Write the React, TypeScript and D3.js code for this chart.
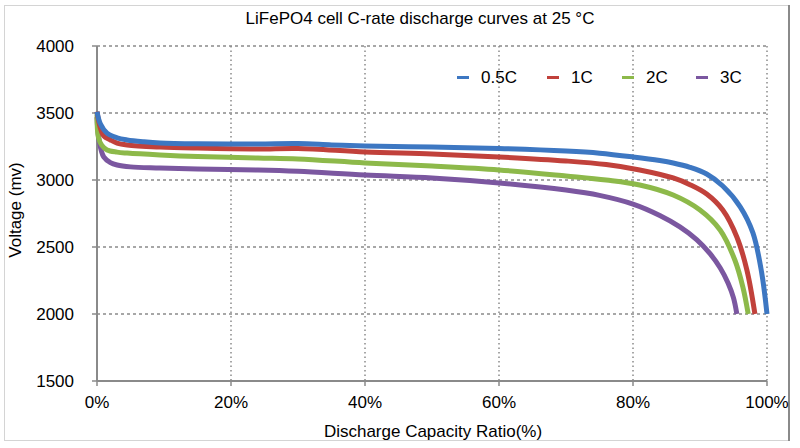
import React from "react";
import * as d3 from "d3";

const seriesNames = ["0.5C", "1C", "2C", "3C"];
const seriesColors = ["#3d77c2", "#c1413b", "#8db94a", "#7b57a0"];

const cap05 = [0, 0.5, 1.5, 3, 4.5, 7, 9.4, 15, 24, 30, 35, 40, 50, 60, 70, 75, 80, 84, 86, 88.5, 91, 93.4, 96, 97.9, 99.2, 100];
const volt05 = [3510, 3420, 3350, 3315, 3299, 3285, 3276, 3270, 3269, 3272, 3262, 3254, 3246, 3235, 3216, 3200, 3172, 3145, 3127, 3095, 3045, 2955, 2800, 2605, 2310, 2000];

const cap1 = [0, 0.45, 1, 2, 3, 4.5, 9.4, 15, 24, 30, 40, 50, 60, 70, 76, 81, 86, 88.5, 91, 93.4, 95.5, 97, 98.2];
const volt1 = [3510, 3396, 3330, 3299, 3275, 3261, 3246, 3238, 3231, 3235, 3209, 3194, 3172, 3142, 3115, 3075, 3015, 2965, 2895, 2776, 2575, 2328, 2000];

const cap2 = [0, 0.2, 0.7, 1.5, 3, 4.5, 9.4, 15, 24, 30, 40, 50, 60, 70, 76, 81, 86, 90, 93, 95.2, 96.4, 97.2];
const volt2 = [3490, 3321, 3260, 3224, 3208, 3201, 3187, 3175, 3164, 3157, 3127, 3104, 3075, 3030, 3000, 2963, 2888, 2776, 2627, 2403, 2201, 2000];

const cap3 = [0, 0.3, 1, 2, 3, 5, 9.4, 15, 24, 30, 40, 50, 60, 70, 75, 80, 84, 87, 89.5, 91.5, 93, 94.2, 95, 95.5];
const volt3 = [3470, 3300, 3172, 3130, 3112, 3098, 3090, 3082, 3075, 3065, 3037, 3015, 2978, 2925, 2885, 2820, 2735, 2650, 2555, 2450, 2345, 2230, 2120, 2000];

const xTicks = [0, 20, 40, 60, 80, 100];
const yTicks = [1500, 2000, 2500, 3000, 3500, 4000];

const title = "LiFePO4 cell C-rate discharge curves at 25 °C";
const xTitle = "Discharge Capacity Ratio(%)";
const yTitle = "Voltage (mv)";

const FONT = "'Liberation Sans', Arial, Helvetica, sans-serif";

export default function App() {
  const W = 800, H = 448;
  const x = d3.scaleLinear().domain([0, 100]).range([97, 767]);
  const y = d3.scaleLinear().domain([1500, 4000]).range([381, 46]);
  const caps = [cap05, cap1, cap2, cap3];
  const volts = [volt05, volt1, volt2, volt3];
  const line = d3
    .line<[number, number]>()
    .x((d) => x(d[0]))
    .y((d) => y(d[1]))
    .curve(d3.curveCatmullRom.alpha(0.5));

  const order = [3, 2, 1, 0];
  const legendX = [457, 547, 622, 696];

  return (
    <svg width={W} height={H} style={{ position: "absolute", left: 0, top: 0, background: "#fff" }} fontFamily={FONT}>
      <rect x={4.5} y={5.5} width={784} height={435} fill="#fff" stroke="#d4d4d4" strokeWidth={1} />
      <line x1={789} x2={789} y1={5} y2={441} stroke="#8a8a8a" strokeWidth={2} />

      {yTicks.filter((t) => t > 1500).map((t) => (
        <line key={"hg" + t} x1={x(0)} x2={x(100)} y1={y(t)} y2={y(t)} stroke="#8a8a8a" strokeWidth={1.5} strokeDasharray="3,3" />
      ))}
      {xTicks.filter((t) => t > 0).map((t) => (
        <line key={"vg" + t} x1={x(t)} x2={x(t)} y1={y(4000)} y2={y(1500)} stroke="#8a8a8a" strokeWidth={1.5} strokeDasharray="1.5,3" />
      ))}

      <line x1={x(0)} x2={x(0)} y1={y(4000)} y2={y(1500)} stroke="#8a8a8a" strokeWidth={2} />
      <line x1={x(0)} x2={x(100)} y1={y(1500)} y2={y(1500)} stroke="#8a8a8a" strokeWidth={2} />
      {yTicks.map((t) => (
        <g key={"yt" + t}>
          <line x1={x(0) - 5} x2={x(0)} y1={y(t)} y2={y(t)} stroke="#8a8a8a" strokeWidth={1.5} />
          <text x={74} y={y(t)} dy="0.35em" textAnchor="end" fontSize={17} fill="#000">{t}</text>
        </g>
      ))}
      {xTicks.map((t) => (
        <g key={"xt" + t}>
          <line x1={x(t)} x2={x(t)} y1={y(1500)} y2={y(1500) + 5} stroke="#8a8a8a" strokeWidth={1.5} />
          <text x={x(t)} y={408} textAnchor="middle" fontSize={17} fill="#000">{t + "%"}</text>
        </g>
      ))}

      {order.map((i) => {
        const pts = caps[i].map((c, k) => [c, volts[i][k]] as [number, number]);
        return <path key={"s" + i} d={line(pts) || ""} fill="none" stroke={seriesColors[i]} strokeWidth={5} strokeLinejoin="round" />;
      })}

      {seriesNames.map((n, i) => (
        <g key={"lg" + i}>
          <line x1={legendX[i]} x2={legendX[i] + 12} y1={77.5} y2={77.5} stroke={seriesColors[i]} strokeWidth={3} />
          <text x={legendX[i] + 24} y={77.5} dy="0.35em" fontSize={17} fill="#000">{n}</text>
        </g>
      ))}

      <text x={420} y={24} textAnchor="middle" fontSize={17} fill="#000">{title}</text>
      <text x={433} y={437} textAnchor="middle" fontSize={17} fill="#000">{xTitle}</text>
      <text transform={`translate(21,210) rotate(-90)`} textAnchor="middle" fontSize={17} fill="#000">{yTitle}</text>
    </svg>
  );
}
